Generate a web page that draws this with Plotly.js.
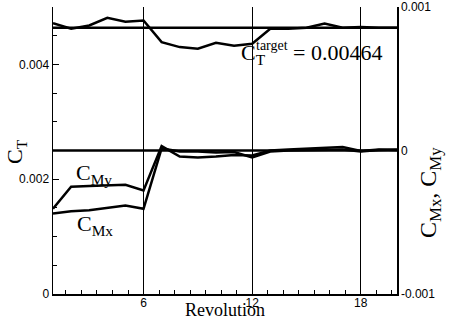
<!DOCTYPE html>
<html>
<head>
<meta charset="utf-8">
<script src="https://cdn.plot.ly/plotly-3.0.1.min.js"></script>
<style>html,body{margin:0;padding:0;background:#fff;}#chart{width:451px;height:321px;}</style>
</head>
<body>
<div id="chart"></div>
<script>
var revolution = [1,2,3,4,5,6,7,8,9,10,11,12,13,14,15,16,17,18,19,20];
var cT = [0.004718,0.004621,0.004678,0.004812,0.004743,0.004765,0.004388,0.004301,0.004273,0.004377,0.004325,0.004360,0.004620,0.004620,0.004640,0.004710,0.004640,0.004650,0.004640,0.004640];
var cMy = [-0.000406,-0.000253,-0.000247,-0.000244,-0.000239,-0.000279,0.000031,-0.000042,-0.000049,-0.000042,-0.000031,-0.000035,0.000000,0.000007,0.000014,0.000017,0.000024,-0.000003,0.000007,0.000003];
var cMx = [-0.000439,-0.000423,-0.000416,-0.000397,-0.000383,-0.000406,0.000014,-0.000007,-0.000007,-0.000014,-0.000010,-0.000049,-0.000007,0.000000,0.000003,0.000007,0.000007,-0.000007,0.000003,0.000007];
var cTTarget = 0.00464;
var cMTarget = 0;
var leftTickVals = [0, 0.002, 0.004];
var leftTickText = ['0', '0.002', '0.004'];
var rightTickVals = [-0.001, 0, 0.001];
var rightTickText = ['-0.001', '0', '0.001'];
var xTickVals = [6, 12, 18];
var xTickText = ['6', '12', '18'];

var xEnds = [revolution[0], revolution[revolution.length-1]];
var L = {color:'black', width:2.5};
var data = [
  {x: xEnds, y: [cTTarget, cTTarget], mode:'lines', line:L, yaxis:'y', hoverinfo:'skip'},
  {x: revolution, y: cT, mode:'lines', line:L, yaxis:'y'},
  {x: xEnds, y: [cMTarget, cMTarget], mode:'lines', line:L, yaxis:'y2', hoverinfo:'skip'},
  {x: revolution, y: cMy, mode:'lines', line:L, yaxis:'y2'},
  {x: revolution, y: cMx, mode:'lines', line:L, yaxis:'y2'}
];

// pixel -> paper helpers (plot area 53..397 x 7..294)
function px(x){ return (x-53)/344; }
function py(y){ return (294-y)/287; }
var serif = 'Liberation Serif, Times New Roman, serif';
var sans = 'Liberation Sans, Arial, sans-serif';

var layout = {
  width:451, height:321,
  margin:{l:53, r:54, t:7, b:27, pad:0},
  paper_bgcolor:'white', plot_bgcolor:'white',
  showlegend:false,
  font:{family:sans, size:12, color:'black'},
  xaxis:{range:[1,20], tickmode:'array', tickvals:xTickVals, ticktext:xTickText,
    ticks:'inside', ticklen:5, tickcolor:'black', showgrid:true, gridcolor:'black', gridwidth:1,
    showline:true, linecolor:'black', linewidth:1.5, zeroline:false, ticklabelstandoff:-3,
    tickfont:{family:sans, size:12, color:'black'},
    minor:{dtick:6/7, tick0:0, ticks:'inside', ticklen:4, tickcolor:'black', showgrid:false}},
  yaxis:{range:[0,0.005], tickmode:'array', tickvals:leftTickVals, ticktext:leftTickText,
    ticks:'inside', ticklen:6, tickcolor:'black', showgrid:false,
    showline:true, linecolor:'black', linewidth:1.5, zeroline:false,
    tickfont:{family:sans, size:12, color:'black'},
    minor:{dtick:0.0005, tick0:0, ticks:'inside', ticklen:4, tickcolor:'black', showgrid:false}},
  yaxis2:{range:[-0.001,0.001], overlaying:'y', side:'right', tickmode:'array', tickvals:rightTickVals, ticktext:rightTickText,
    ticks:'inside', ticklen:5, tickcolor:'black', showgrid:false,
    showline:true, linecolor:'black', linewidth:1.5, zeroline:false,
    tickfont:{family:sans, size:12, color:'black'}},
  annotations:[
    {xref:'paper', yref:'paper', x:px(239), y:py(54), xanchor:'left', yanchor:'middle', showarrow:false,
      text:'C<sub>T</sub>', font:{family:serif, size:22, color:'black'}},
    {xref:'paper', yref:'paper', x:px(254), y:py(45), xanchor:'left', yanchor:'middle', showarrow:false,
      text:'target', font:{family:serif, size:14, color:'black'}},
    {xref:'paper', yref:'paper', x:px(291), y:py(52), xanchor:'left', yanchor:'middle', showarrow:false,
      text:'= 0.00464', font:{family:serif, size:22, color:'black'}},
    {xref:'paper', yref:'paper', x:px(74), y:py(174), xanchor:'left', yanchor:'middle', showarrow:false,
      text:'C<sub>My</sub>', font:{family:serif, size:22, color:'black'}},
    {xref:'paper', yref:'paper', x:px(75), y:py(225), xanchor:'left', yanchor:'middle', showarrow:false,
      text:'C<sub>Mx</sub>', font:{family:serif, size:22, color:'black'}},
    {xref:'paper', yref:'paper', x:px(16), y:py(152), xanchor:'center', yanchor:'middle', showarrow:false, textangle:-90,
      text:'C<sub>T</sub>', font:{family:serif, size:22, color:'black'}},
    {xref:'paper', yref:'paper', x:px(430), y:py(193), xanchor:'center', yanchor:'middle', showarrow:false, textangle:-90,
      text:'C<sub>Mx</sub>, C<sub>My</sub>', font:{family:serif, size:24, color:'black'}},
    {xref:'paper', yref:'paper', x:px(225), y:py(310), xanchor:'center', yanchor:'middle', showarrow:false,
      text:'Revolution', font:{family:serif, size:18, color:'black'}}
  ]
};
Plotly.newPlot('chart', data, layout, {displayModeBar:false, staticPlot:true});
</script>
</body>
</html>
